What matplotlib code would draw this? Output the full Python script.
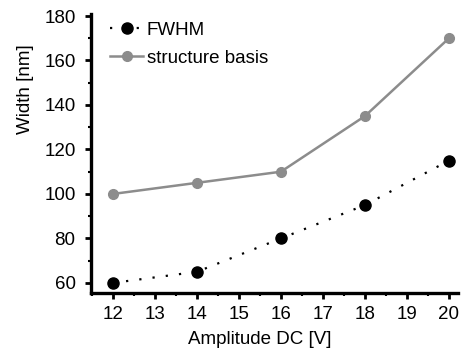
import matplotlib
matplotlib.use("Agg")
import matplotlib.pyplot as plt
from matplotlib.ticker import MultipleLocator

plt.rcParams['font.family'] = ['Liberation Sans', 'DejaVu Sans']

amplitude = [12, 14, 16, 18, 20]
fwhm = [60, 65, 80, 95, 115]
structure_basis = [100, 105, 110, 135, 170]
x_ticks = [12, 13, 14, 15, 16, 17, 18, 19, 20]
y_ticks = [60, 80, 100, 120, 140, 160, 180]

fig = plt.figure(figsize=(4.61, 3.5), dpi=100)
ax = fig.add_axes([0.197, 0.163, 0.796, 0.797])

ax.plot(amplitude, fwhm, color='black', linestyle=(0, (1, 5)), linewidth=1.6,
        marker='o', markersize=8, label='FWHM')
ax.plot(amplitude, structure_basis, color='#8c8c8c', linewidth=1.8,
        marker='o', markersize=7, label='structure basis')

ax.set_xlim(11.476, 20.21)
ax.set_ylim(55.5, 180.9)
ax.set_xticks(x_ticks)
ax.set_yticks(y_ticks)
ax.xaxis.set_minor_locator(MultipleLocator(0.5))
ax.yaxis.set_minor_locator(MultipleLocator(10))

for s in ['top', 'right']:
    ax.spines[s].set_visible(False)
for s in ['left', 'bottom']:
    ax.spines[s].set_linewidth(2.4)
ax.tick_params(which='major', direction='out', length=4, width=2, labelsize=13.5)
ax.tick_params(axis='y', which='major', pad=7)
ax.tick_params(axis='x', which='major', pad=5.5)
ax.tick_params(which='minor', direction='out', length=2.5, width=1.5)

ax.set_xlabel('Amplitude DC [V]', fontsize=13.5)
ax.set_ylabel('Width [nm]', fontsize=13.5)
ax.xaxis.set_label_coords(0.46, -0.135)
ax.yaxis.set_label_coords(-0.155, 0.73)

leg = ax.legend(loc='upper left', frameon=False, fontsize=13.5, handlelength=1.75,
                handletextpad=0.2, borderaxespad=0.0, labelspacing=0.6,
                bbox_to_anchor=(0.033, 1.0))

fig.savefig('out.png', dpi=100)
